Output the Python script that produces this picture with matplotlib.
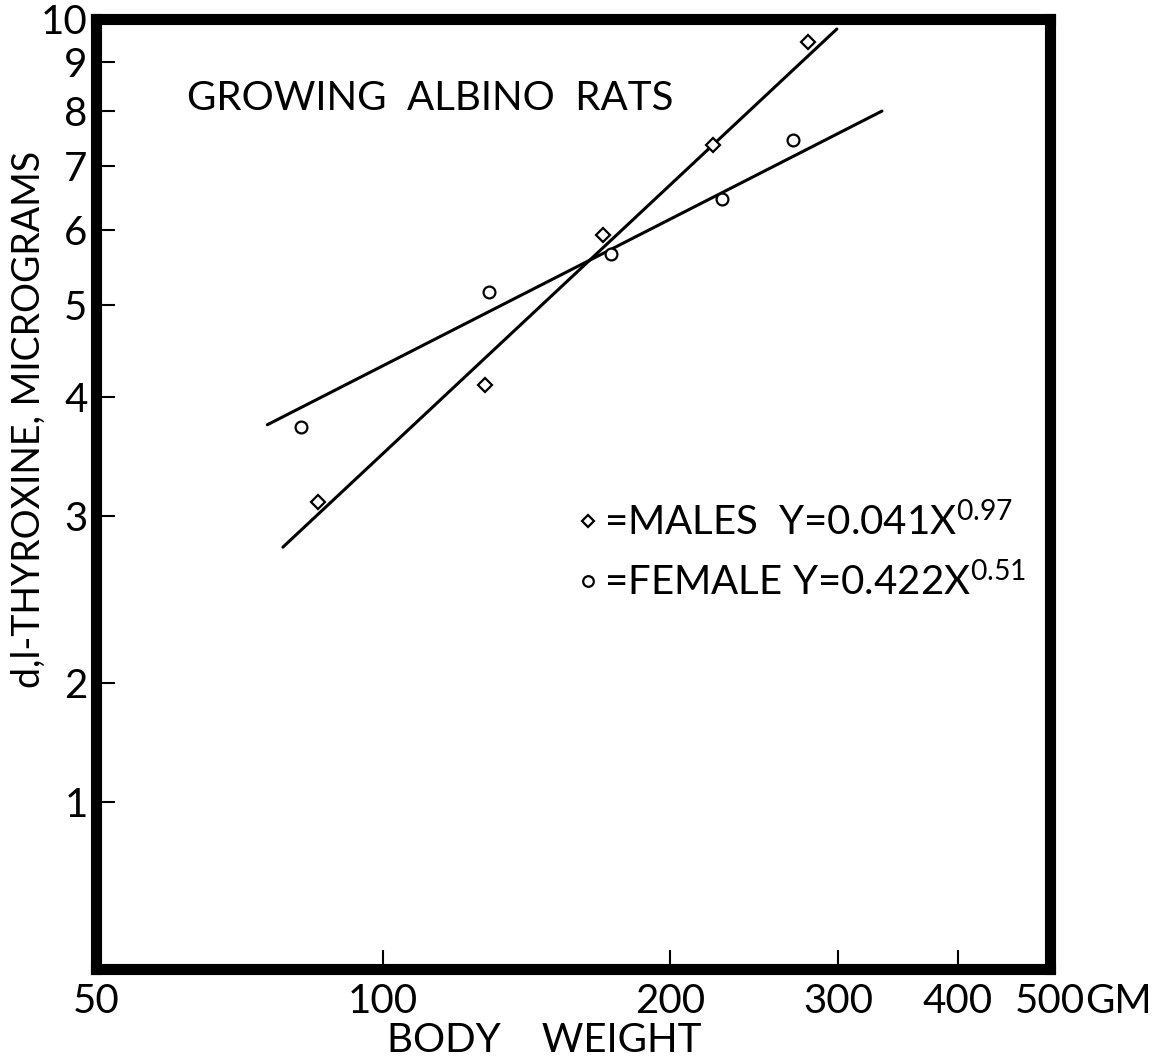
import matplotlib
matplotlib.use("Agg")
import matplotlib.pyplot as plt
from matplotlib.ticker import FixedLocator, FixedFormatter, NullLocator

# body weight (gm) and d,l-thyroxine (micrograms)
male_weight = [85.5, 127.9, 170.0, 221.7, 278.9]
male_thyroxine = [3.10, 4.12, 5.92, 7.37, 9.46]
female_weight = [82.0, 129.1, 173.3, 226.6, 268.9]
female_thyroxine = [3.72, 5.16, 5.66, 6.46, 7.46]

# ends of the two fitted lines as drawn
male_fit_weight = [78.5, 298.9]
male_fit_thyroxine = [2.78, 9.76]
female_fit_weight = [75.6, 333.3]
female_fit_thyroxine = [3.74, 8.00]

x_ticks = [50, 100, 200, 300, 400, 500]
x_tick_labels = ["50", "100", "200", "300", "400", "500"]
# the original puts its "1" tick halfway between 1 and 2
y_ticks = [1.5, 2, 3, 4, 5, 6, 7, 8, 9, 10]
y_tick_labels = ["1", "2", "3", "4", "5", "6", "7", "8", "9", "10"]

plt.rcParams['font.family'] = ['Lato', 'DejaVu Sans']
plt.rcParams['mathtext.fontset'] = 'custom'
plt.rcParams['mathtext.rm'] = 'Lato'
plt.rcParams['mathtext.it'] = 'Lato'
plt.rcParams['mathtext.bf'] = 'Lato'

fig = plt.figure(figsize=(11.57, 10.62), dpi=100)
ax = fig.add_axes([96 / 1157, 93 / 1062, 954 / 1157, 950 / 1062])
ax.set_xscale('log')
ax.set_yscale('log')
ax.set_xlim(50, 500)
ax.set_ylim(1, 10)

ax.plot(male_fit_weight, male_fit_thyroxine, color='black', lw=2.2,
        solid_capstyle='round')
ax.plot(female_fit_weight, female_fit_thyroxine, color='black', lw=2.2,
        solid_capstyle='round')
ax.plot(male_weight, male_thyroxine, ls='none', marker='D', ms=7,
        mfc='white', mec='black', mew=1.6, label="=MALES  Y=0.041X$^{0.97}$")
ax.plot(female_weight, female_thyroxine, ls='none', marker='o', ms=8.5,
        mfc='white', mec='black', mew=1.6, label="=FEMALE Y=0.422X$^{0.51}$")

for side in ax.spines.values():
    side.set_linewidth(8)
    side.set_color('black')

ax.xaxis.set_major_locator(FixedLocator(x_ticks))
ax.xaxis.set_major_formatter(FixedFormatter(x_tick_labels))
ax.yaxis.set_major_locator(FixedLocator(y_ticks))
ax.yaxis.set_major_formatter(FixedFormatter(y_tick_labels))
ax.xaxis.set_minor_locator(NullLocator())
ax.yaxis.set_minor_locator(NullLocator())
ax.tick_params(axis='both', direction='in', length=14, width=1.5,
               labelsize=29, color='black')
ax.tick_params(axis='x', pad=10)
ax.tick_params(axis='y', pad=6)

ax.text(0.35, 0.916, "GROWING  ALBINO  RATS", transform=ax.transAxes,
        ha='center', va='center', fontsize=29)

ax.legend(loc='upper left', bbox_to_anchor=(0.507, 0.492), frameon=False,
          fontsize=29, handlelength=0.4, handletextpad=0.2, borderpad=0,
          borderaxespad=0, labelspacing=0.5, markerscale=0.9)

ax.set_xlabel("BODY    WEIGHT", fontsize=29)
ax.xaxis.set_label_coords(0.47, -0.056)
ax.set_ylabel("d,l-THYROXINE, MICROGRAMS", fontsize=27)
ax.yaxis.set_label_coords(-0.052, 0.578)

# the "GM" unit that follows the 500 label
lab500 = ax.get_xticklabels()[-1]
ax.annotate("GM", xy=(1, 0.5), xycoords=lab500, ha='left', va='center',
            fontsize=29)

fig.savefig("out.png", dpi=100)
